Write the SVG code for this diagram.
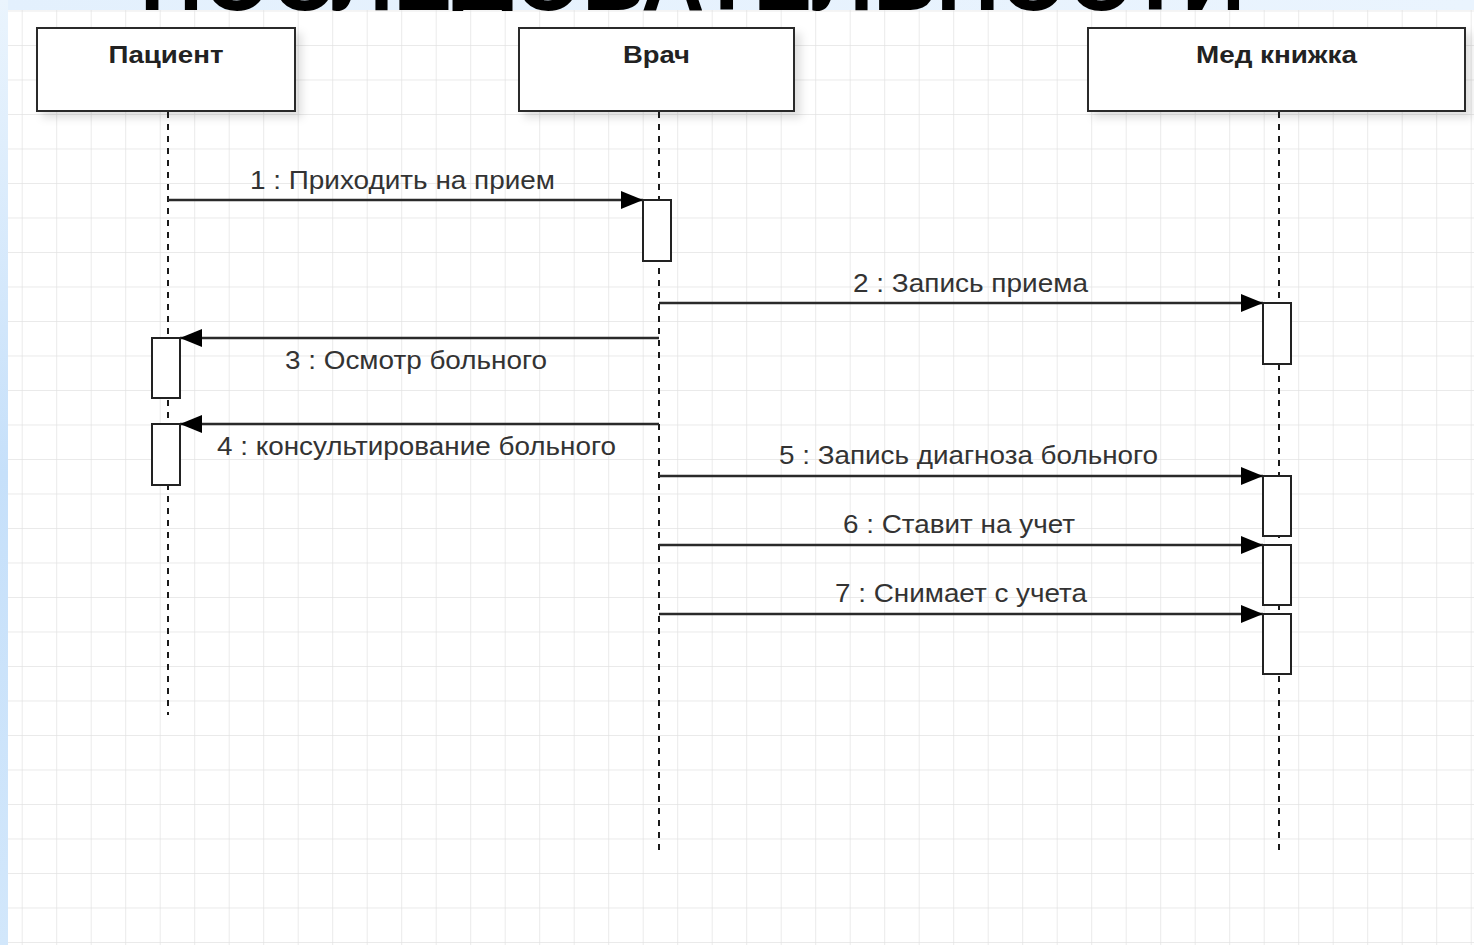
<svg xmlns="http://www.w3.org/2000/svg" width="1474" height="945" viewBox="0 0 1474 945">
  <defs>
    <pattern id="grid" x="21.7" y="10.5" width="34.5" height="34.5" patternUnits="userSpaceOnUse">
      <path d="M0,0 H34.5 M0,0 V34.5" fill="none" stroke="#e3e3e3" stroke-width="1.5"/>
    </pattern>
    <linearGradient id="leftStrip" x1="0" y1="0" x2="0" y2="1">
      <stop offset="0" stop-color="#eaf4fd"/>
      <stop offset="0.5" stop-color="#c6e0fa"/>
      <stop offset="1" stop-color="#d2e7fb"/>
    </linearGradient>
    <linearGradient id="topStrip" x1="0" y1="0" x2="1" y2="0">
      <stop offset="0" stop-color="#e3f0fd"/>
      <stop offset="1" stop-color="#eaf4fe"/>
    </linearGradient>
    <clipPath id="titleClip">
      <rect x="0" y="0" width="1474" height="11"/>
    </clipPath>
    <filter id="shadow" x="-10%" y="-20%" width="130%" height="150%">
      <feDropShadow dx="6" dy="6" stdDeviation="4" flood-color="#000" flood-opacity="0.12"/>
    </filter>
    <marker id="arrow" markerUnits="userSpaceOnUse" markerWidth="22" markerHeight="18" refX="22" refY="9" orient="auto">
      <path d="M0,0 L22,9 L0,18 Z" fill="#000"/>
    </marker>
    <style>
      .head { fill: #fff; stroke: #2a2a2a; stroke-width: 2; }
      .headtxt { font-family: "Liberation Sans", Arial, sans-serif; font-weight: bold; font-size: 24px; fill: #222; text-anchor: middle; }
      .life { fill: none; stroke: #1a1a1a; stroke-width: 2; stroke-dasharray: 6 6; }
      .act { fill: #fff; stroke: #222; stroke-width: 2; }
      .msg { fill: none; stroke: #2a2a2a; stroke-width: 2.5; marker-end: url(#arrow); }
      .lbl { font-family: "Liberation Sans", Arial, sans-serif; font-size: 26px; fill: #333; text-anchor: middle; }
      .title { font-family: "Liberation Sans", Arial, sans-serif; font-weight: bold; font-size: 92px; fill: #000; }
    </style>
  </defs>

  <rect x="0" y="0" width="1474" height="945" fill="#fff"/>
  <rect x="8" y="10" width="1466" height="935" fill="url(#grid)"/>
  <rect x="0" y="0" width="1474" height="10" fill="url(#topStrip)"/>
  <rect x="0" y="0" width="8" height="945" fill="url(#leftStrip)"/>
  <g clip-path="url(#titleClip)">
    <text class="title" x="140" y="10" textLength="1105" lengthAdjust="spacingAndGlyphs">ПОСЛЕДОВАТЕЛЬНОСТИ</text>
  </g>

  <g id="node-patient">
    <rect class="head" x="37" y="28" width="258" height="83" filter="url(#shadow)"/>
    <text class="headtxt" x="166" y="63" textLength="115" lengthAdjust="spacingAndGlyphs">Пациент</text>
    <line class="life" x1="168" y1="112" x2="168" y2="715"/>
  </g>
  <g id="node-doctor">
    <rect class="head" x="519" y="28" width="275" height="83" filter="url(#shadow)"/>
    <text class="headtxt" x="656.5" y="63" textLength="67" lengthAdjust="spacingAndGlyphs">Врач</text>
    <line class="life" x1="659" y1="112" x2="659" y2="855"/>
  </g>
  <g id="node-medbook">
    <rect class="head" x="1088" y="28" width="377" height="83" filter="url(#shadow)"/>
    <text class="headtxt" x="1276.5" y="63" textLength="161" lengthAdjust="spacingAndGlyphs">Мед книжка</text>
    <line class="life" x1="1279" y1="112" x2="1279" y2="855"/>
  </g>

  <g id="activations">
    <rect class="act" x="643" y="200" width="28" height="61"/>
    <rect class="act" x="1263" y="303" width="28" height="61"/>
    <rect class="act" x="152" y="338" width="28" height="60"/>
    <rect class="act" x="152" y="424" width="28" height="61"/>
    <rect class="act" x="1263" y="476" width="28" height="60"/>
    <rect class="act" x="1263" y="545" width="28" height="60"/>
    <rect class="act" x="1263" y="614" width="28" height="60"/>
  </g>

  <g id="connectors">
    <line class="msg" x1="168" y1="200" x2="643" y2="200"/>
    <text class="lbl" x="402.5" y="189" textLength="305" lengthAdjust="spacingAndGlyphs">1 : Приходить на прием</text>

    <line class="msg" x1="659" y1="303" x2="1263" y2="303"/>
    <text class="lbl" x="970.5" y="292" textLength="235" lengthAdjust="spacingAndGlyphs">2 : Запись приема</text>

    <line class="msg" x1="659" y1="338" x2="180" y2="338"/>
    <text class="lbl" x="416" y="369" textLength="262" lengthAdjust="spacingAndGlyphs">3 : Осмотр больного</text>

    <line class="msg" x1="659" y1="424" x2="180" y2="424"/>
    <text class="lbl" x="416.5" y="455" textLength="399" lengthAdjust="spacingAndGlyphs">4 : консультирование больного</text>

    <line class="msg" x1="659" y1="476" x2="1263" y2="476"/>
    <text class="lbl" x="968.5" y="464" textLength="379" lengthAdjust="spacingAndGlyphs">5 : Запись диагноза больного</text>

    <line class="msg" x1="659" y1="545" x2="1263" y2="545"/>
    <text class="lbl" x="959" y="533" textLength="232" lengthAdjust="spacingAndGlyphs">6 : Ставит на учет</text>

    <line class="msg" x1="659" y1="614" x2="1263" y2="614"/>
    <text class="lbl" x="961" y="602" textLength="252" lengthAdjust="spacingAndGlyphs">7 : Снимает с учета</text>
  </g>
</svg>
